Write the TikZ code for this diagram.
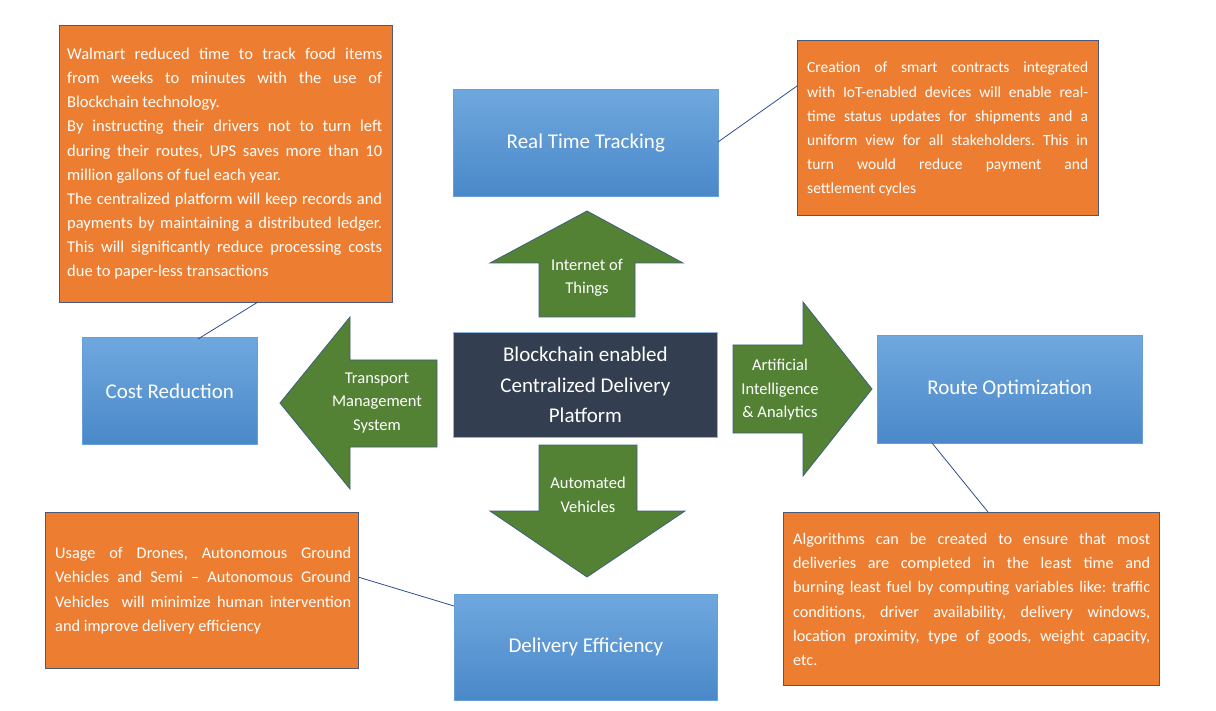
\documentclass[tikz,border=0pt]{standalone}
\usepackage{fontspec}
\setmainfont{Carlito}
\usetikzlibrary{calc}
\definecolor{orng}{HTML}{ED7D31}
\definecolor{obord}{HTML}{4A5A78}
\definecolor{grn}{HTML}{548235}
\definecolor{gbord}{HTML}{3E5F7E}
\definecolor{dark}{HTML}{333F50}
\definecolor{dbord}{HTML}{8FB4DE}
\definecolor{btop}{HTML}{6FA8DE}
\definecolor{bbot}{HTML}{4A88C9}
\definecolor{bbord}{HTML}{6A9ED6}
\definecolor{conn}{HTML}{2F4F8F}
\newdimen\jwX
\newcommand{\jlineX}[1]{\hbox to \jwX{\spaceskip=0.226em plus 3em minus 0.08em\xspaceskip=\spaceskip #1}}
\newcommand{\lastlineX}[1]{\hbox{\spaceskip=0.226em\xspaceskip=\spaceskip #1}}
\tikzset{
  obox/.style={fill=orng, draw=obord, line width=1pt, anchor=north west, inner sep=0pt},
  otext/.style={text=white, anchor=north west, inner sep=0pt},
  bbox/.style={top color=btop, bottom color=bbot, draw=bbord, line width=0.6pt, anchor=north west, inner sep=0pt},
  btext/.style={text=white, font=\fontsize{21}{26}\selectfont},
  garrow/.style={fill=grn, draw=gbord, line width=0.8pt},
  gtext/.style={text=white, align=center, font=\fontsize{16.5}{23.5}\selectfont},
  conline/.style={draw=conn, line width=0.8pt}
}
\begin{document}
\frenchspacing
\begin{tikzpicture}[x=1pt,y=-1pt]
\useasboundingbox (0,0) rectangle (1216,711);
\fill[white] (0,0) rectangle (1216,711);

% orange boxes
\node[obox, minimum width=333pt, minimum height=277pt] (o1) at (59,25) {};
\node[otext, text width=315pt, font=\fontsize{16.5}{24.1}\selectfont] (t1) at (67,48) {\jwX=315pt%
\jlineX{Walmart reduced time to track food items}
\jlineX{from weeks to minutes with the use of}
\lastlineX{Blockchain technology.}
\jlineX{By instructing their drivers not to turn left}
\jlineX{during their routes, UPS saves more than 10}
\lastlineX{million gallons of fuel each year.}
\jlineX{The centralized platform will keep records and}
\jlineX{payments by maintaining a distributed ledger.}
\jlineX{This will significantly reduce processing costs}
\lastlineX{due to paper-less transactions}};

\node[obox, minimum width=301pt, minimum height=175pt] (o2) at (797,40) {};
\node[otext, text width=281pt, font=\fontsize{15.5}{24.1}\selectfont] (t2) at (807,62) {\jwX=281pt%
\jlineX{Creation of smart contracts integrated}
\jlineX{with IoT-enabled devices will enable real-}
\jlineX{time status updates for shipments and a}
\jlineX{uniform view for all stakeholders. This in}
\jlineX{turn would reduce payment and}
\lastlineX{settlement cycles}};

\node[obox, minimum width=313pt, minimum height=156pt] (o3) at (45,512) {};
\node[otext, text width=296pt, font=\fontsize{16.3}{24.3}\selectfont] (t3) at (55,547) {\jwX=296pt%
\jlineX{Usage of Drones, Autonomous Ground}
\jlineX{Vehicles and Semi -- Autonomous Ground}
\jlineX{Vehicles\ \ will minimize human intervention}
\lastlineX{and improve delivery efficiency}};

\node[obox, minimum width=376pt, minimum height=173pt] (o4) at (783,512) {};
\node[otext, text width=357pt, font=\fontsize{16.2}{24.2}\selectfont] (t4) at (793,533) {\jwX=357pt%
\jlineX{Algorithms can be created to ensure that most}
\jlineX{deliveries are completed in the least time and}
\jlineX{burning least fuel by computing variables like: traffic}
\jlineX{conditions, driver availability, delivery windows,}
\jlineX{location proximity, type of goods, weight capacity,}
\lastlineX{etc.}};

% blue boxes
\node[bbox, minimum width=265pt, minimum height=107pt] (rtt) at (453,89) {};
\node[btext] at (rtt.center) {Real Time Tracking};
\node[bbox, minimum width=175pt, minimum height=107pt] (cr) at (82,337) {};
\node[btext] at (cr.center) {Cost Reduction};
\node[bbox, minimum width=265pt, minimum height=108pt] (ro) at (877,335) {};
\node[btext] at (ro.center) {Route Optimization};
\node[bbox, minimum width=263pt, minimum height=106pt] (de) at (454,594) {};
\node[btext] at (de.center) {Delivery Efficiency};

% center box
\node[fill=dark, draw=dbord, line width=0.8pt, anchor=north west, minimum width=264pt, minimum height=105pt, inner sep=0pt] (c) at (453,332) {};
\node[text=white, align=center, font=\fontsize{21}{30.5}\selectfont] at ($(c.center)+(0,0)$) {Blockchain enabled\\Centralized Delivery\\Platform};

% green arrows
\draw[garrow] (539,317) -- (539,263) -- (490,263) -- (587,211) -- (683,263) -- (635,263) -- (635,317) -- cycle;
\node[gtext] (la) at (587,278) {Internet of\\Things};
\draw[garrow] (437,360) -- (350,360) -- (350,317) -- (280,403) -- (350,489) -- (350,447) -- (437,447) -- cycle;
\node[gtext] (lb) at (377,403) {Transport\\Management\\System};
\draw[garrow] (733,345) -- (803,345) -- (803,302) -- (872,389) -- (803,476) -- (803,433) -- (733,433) -- cycle;
\node[gtext] (lc) at (780,390) {Artificial\\Intelligence\\\& Analytics};
\draw[garrow] (539,445) -- (637,445) -- (637,511) -- (685,511) -- (587,577) -- (490,511) -- (539,511) -- cycle;
\node[gtext] (ld) at (588,495) {Automated\\Vehicles};

% connectors
\coordinate (k1) at (718,142);
\coordinate (k2) at (797,86);
\coordinate (k3) at (198,339);
\coordinate (k4) at (258,302);
\coordinate (k5) at (358,577);
\coordinate (k6) at (454,606);
\coordinate (k7) at (932,443);
\coordinate (k8) at (988,512);
\draw[conline] (k1) -- (k2);
\draw[conline] (k3) -- (k4);
\draw[conline] (k5) -- (k6);
\draw[conline] (k7) -- (k8);
\end{tikzpicture}
\end{document}
